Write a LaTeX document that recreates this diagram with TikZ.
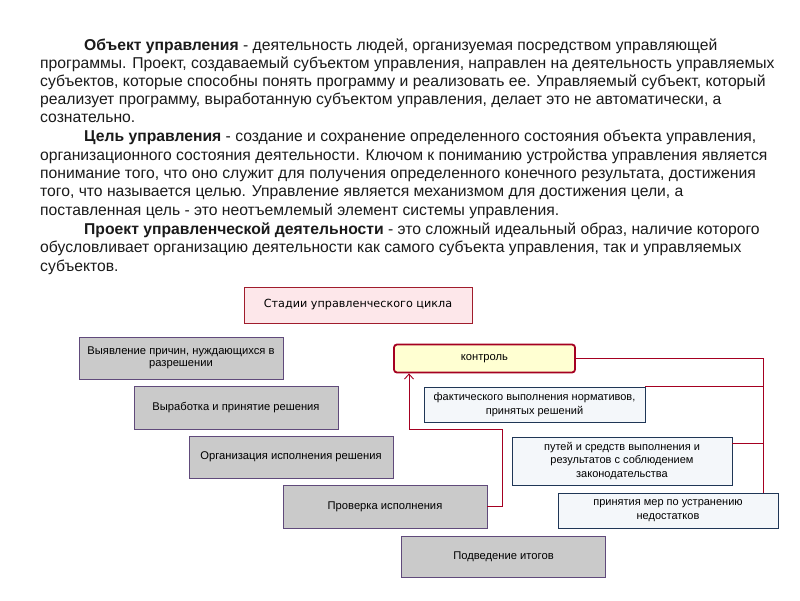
\documentclass[tikz,border=0pt]{standalone}
\usepackage{fontspec}
\setmainfont{Liberation Sans}
\newfontfamily\dejavu{DejaVu Sans}
\usetikzlibrary{arrows.meta}
\definecolor{crim}{HTML}{A50021}
\definecolor{pinkfill}{HTML}{FDE7EA}
\definecolor{pinkdraw}{HTML}{A01C2C}
\definecolor{grayfill}{HTML}{CACACA}
\definecolor{purp}{HTML}{604A7B}
\definecolor{yell}{HTML}{FFFFD2}
\definecolor{bluefill}{HTML}{F4F7FA}
\definecolor{navy}{HTML}{1F3656}
\definecolor{txt}{HTML}{1A1A1A}
\begin{document}
\begin{tikzpicture}[x=1pt,y=-1pt,
  para/.style={anchor=base west, inner sep=0pt, text=txt, font=\fontsize{15.7}{18}\selectfont},
  graybox/.style={draw=purp, fill=grayfill, line width=0.9pt, inner sep=0pt, align=center,
    font=\fontsize{11.2}{12.5}\selectfont, minimum width=204pt},
  bluebox/.style={draw=navy, fill=bluefill, line width=0.9pt, inner sep=0pt, align=center,
    font=\fontsize{11}{13.5}\selectfont, minimum width=220pt},
  conn/.style={draw=crim, line width=0.9pt}
]
\useasboundingbox (0,0) rectangle (800,600);
\fill[white] (0,0) rectangle (800,600);

% paragraphs
\node[para] (l1) at (84,50) {\textbf{Объект управления} - деятельность людей, организуемая посредством управляющей};
\node[para] (l2) at (40,68) {программы. Проект, создаваемый субъектом управления, направлен на деятельность управляемых};
\node[para] (l3) at (40,86) {субъектов, которые способны понять программу и реализовать ее. Управляемый субъект, который};
\node[para] (l4) at (40,104) {реализует программу, выработанную субъектом управления, делает это не автоматически, а};
\node[para] (l5) at (40,122) {сознательно.};
\node[para] (l6) at (84,141) {\textbf{Цель управления} - создание и сохранение определенного состояния объекта управления,};
\node[para] (l7) at (40,160) {организационного состояния деятельности. Ключом к пониманию устройства управления является};
\node[para] (l8) at (40,178) {понимание того, что оно служит для получения определенного конечного результата, достижения};
\node[para] (l9) at (40,196) {того, что называется целью. Управление является механизмом для достижения цели, а};
\node[para] (l10) at (40,215) {поставленная цель - это неотъемлемый элемент системы управления.};
\node[para] (l11) at (84,234) {\textbf{Проект управленческой деятельности} - это сложный идеальный образ, наличие которого};
\node[para] (l12) at (40,252) {обусловливает организацию деятельности как самого субъекта управления, так и управляемых};
\node[para] (l13) at (40,271) {субъектов.};

% title box
\node[draw=pinkdraw, fill=pinkfill, line width=0.9pt, minimum width=228pt, minimum height=36pt,
  font=\dejavu\fontsize{11.2}{13}\selectfont] (title) at (358,305) {Стадии управленческого цикла};

% gray stages
\node[graybox, minimum height=42pt] (g1) at (181,358) {Выявление причин, нуждающихся в\\разрешении};
\node[graybox, minimum height=43pt] (g2) at (236,407.5) {Выработка и принятие решения};
\node[graybox, minimum height=42pt] (g3) at (291,457) {Организация исполнения решения};
\node[graybox, minimum height=43pt] (g4) at (385,506.5) {Проверка исполнения};
\node[graybox, minimum height=41pt] (g5) at (503.5,556.5) {Подведение итогов};

% control box
\node[draw=crim, fill=yell, line width=1.8pt, rounded corners=3pt, minimum width=181pt,
  minimum height=28pt, font=\fontsize{11.2}{12}\selectfont] (ctrl) at (484.5,358.5) {контроль};

% blue boxes
\node[bluebox, minimum width=221pt, minimum height=35pt] (b1) at (534.5,404.5) {фактического выполнения нормативов,\\принятых решений};
\node[bluebox, minimum width=220pt, minimum height=48pt] (b2) at (622,461) {путей и средств выполнения и\\результатов с соблюдением\\законодательства};
\node[bluebox, minimum width=220pt, minimum height=35pt] (b3) at (668,510.5) {принятия мер по устранению\\недостатков};

% connectors
\coordinate (a1) at (502,429);
\coordinate (a2) at (409,429);
\draw[conn, -{Straight Barb[length=5pt,width=9pt]}] (g4.east) -| (a1) -- (a2) -- (a2 |- ctrl.south);

\coordinate (r1) at (763,358.5);
\coordinate (p1) at (732,443);
\draw[conn] (ctrl.east) -- (r1) -- (r1 |- b3.north);
\draw[conn] (b1.north east) -- (b1.north east -| r1);
\draw[conn] (p1) -- (p1 -| r1);
\end{tikzpicture}
\end{document}
